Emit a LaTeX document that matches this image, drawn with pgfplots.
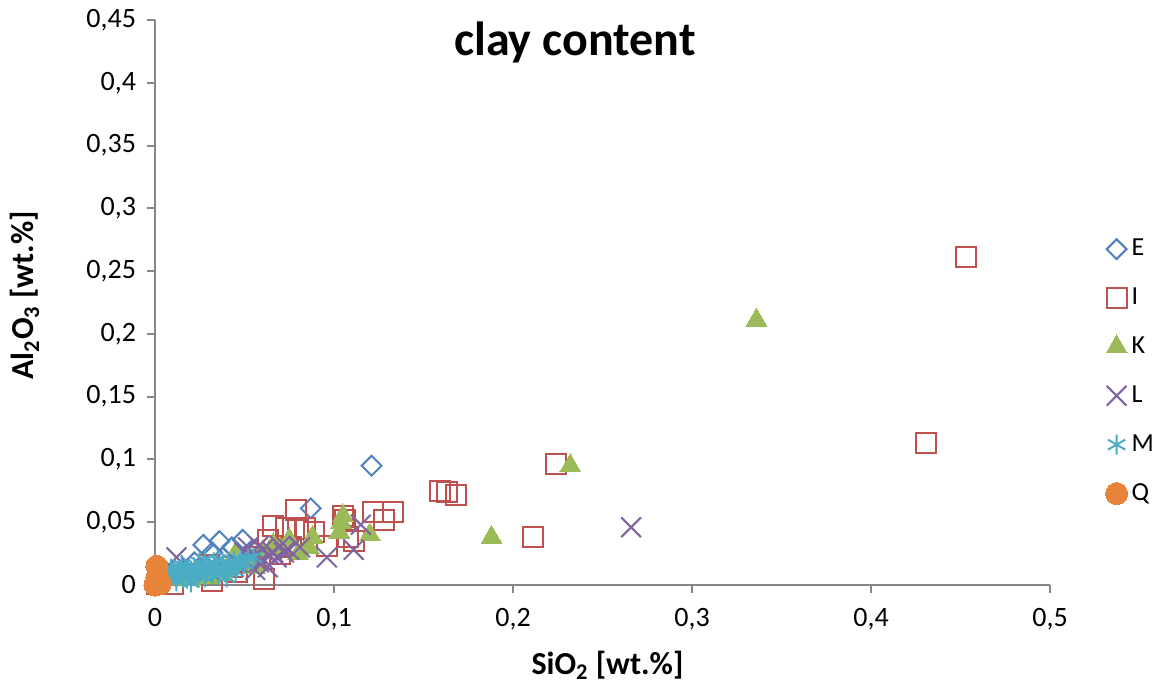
\documentclass[border=0pt]{standalone}
\usepackage{pgfplots}
\pgfplotsset{compat=1.18}
\usepackage{fontspec}
\setmainfont{Carlito}
\definecolor{cE}{HTML}{4F81BD}
\definecolor{cI}{HTML}{C0504D}
\definecolor{cK}{HTML}{9BBB59}
\definecolor{cL}{HTML}{8064A2}
\definecolor{cM}{HTML}{4BACC6}
\definecolor{cQ}{HTML}{E8843A}
\definecolor{axgray}{HTML}{868686}
\begin{document}
\begin{tikzpicture}
\path[use as bounding box] (-77.5pt,-50.5pt) rectangle (501.5pt,292.5pt);
\begin{axis}[
  scale only axis,
  width=447.5pt, height=282.5pt,
  xmin=0, xmax=0.5, ymin=0, ymax=0.45,
  axis x line=bottom, axis y line=left,
  axis line style={-, draw=axgray, line width=1pt},
  tick style={draw=axgray, line width=1pt},
  tick align=outside, major tick length=4pt,
  xtick={0,0.1,0.2,0.3,0.4,0.5},
  ytick={0,0.05,0.1,0.15,0.2,0.25,0.3,0.35,0.4,0.45},
  xticklabels={0,{0,1},{0,2},{0,3},{0,4},{0,5}},
  yticklabels={0,{0,05},{0,1},{0,15},{0,2},{0,25},{0,3},{0,35},{0,4},{0,45}},
  ticklabel style={font=\fontsize{14}{16}\selectfont},
  xticklabel style={yshift=-4pt},
  yticklabel style={xshift=-2pt},
  clip=false,
  xlabel={\bfseries SiO\textsubscript{2} [wt.\%]},
  ylabel={\bfseries Al\textsubscript{2}O\textsubscript{3} [wt.\%]},
  label style={font=\fontsize{16}{18}\selectfont},
  xlabel style={at={(axis description cs:0.5056,-0.1416)}, anchor=center},
  ylabel style={at={(axis description cs:-0.1453,0.513)}, anchor=center},
  legend style={draw=none, at={(rel axis cs:1.055,0.378)}, anchor=west,
    font=\fontsize{13}{15}\selectfont, row sep=10.6pt, fill=none},
  legend cell align=left,
]
\addplot[color=cE, only marks, mark=square, mark size=3.5pt, mark options={rotate=45, draw=cE, line width=1pt, fill=none}] coordinates {
(0.121,0.095) (0.087,0.061) (0.027,0.032) (0.036,0.035) (0.049,0.036)
(0.043,0.030) (0.032,0.026) (0.056,0.028) (0.022,0.018) (0.015,0.012)
(0.010,0.009) (0.005,0.012) (0.001,0.005) (0.038,0.022)
};
\addlegendentry{E}
\addplot[color=cI, only marks, mark=square, mark size=5pt, mark options={draw=cI, line width=1pt, fill=none}] coordinates {
(0.453,0.261) (0.431,0.113) (0.224,0.096) (0.211,0.038) (0.159,0.075)
(0.163,0.074) (0.168,0.072) (0.133,0.058) (0.122,0.058) (0.128,0.052)
(0.105,0.055) (0.106,0.052) (0.108,0.038) (0.111,0.035) (0.096,0.031)
(0.079,0.060) (0.080,0.045) (0.084,0.045) (0.089,0.042) (0.073,0.045)
(0.066,0.047) (0.063,0.036) (0.061,0.005) (0.032,0.003) (0.070,0.025)
(0.052,0.018) (0.043,0.014) (0.030,0.016) (0.020,0.008) (0.010,0.001)
(0.001,0.001) (0.046,0.010) (0.056,0.022) (0.076,0.030)
};
\addlegendentry{I}
\addplot[color=cK, only marks, mark=triangle*, mark size=6pt, mark options={draw=cK, fill=cK, line width=0pt}] coordinates {
(0.336,0.211) (0.232,0.095) (0.188,0.038) (0.120,0.040) (0.105,0.055)
(0.104,0.050) (0.103,0.042) (0.088,0.038) (0.086,0.030) (0.075,0.036)
(0.066,0.032) (0.060,0.026) (0.052,0.020) (0.046,0.016) (0.040,0.012)
(0.034,0.010) (0.026,0.008) (0.016,0.005) (0.070,0.028) (0.080,0.025)
(0.045,0.025) (0.030,0.006) (0.020,0.004) (0.038,0.008) (0.056,0.014)
};
\addlegendentry{K}
\addplot[color=cL, only marks, mark=x, mark size=7pt, mark options={draw=cL, line width=1pt}] coordinates {
(0.266,0.046) (0.115,0.048) (0.111,0.028) (0.096,0.022) (0.075,0.028)
(0.066,0.026) (0.061,0.020) (0.058,0.031) (0.055,0.023) (0.050,0.026)
(0.046,0.018) (0.070,0.031) (0.012,0.022) (0.020,0.015) (0.030,0.012)
(0.081,0.030) (0.063,0.014) (0.056,0.012) (0.068,0.022) (0.052,0.030)
(0.060,0.028) (0.064,0.024) (0.072,0.026) (0.058,0.018)
};
\addlegendentry{L}
\addplot[color=cM, only marks, mark=asterisk, mark size=5pt, mark options={draw=cM, line width=1pt}] coordinates {
(0.003,0.004) (0.006,0.008) (0.008,0.005) (0.010,0.010) (0.012,0.006)
(0.014,0.012) (0.016,0.008) (0.018,0.005) (0.020,0.011) (0.022,0.014)
(0.024,0.008) (0.026,0.012) (0.028,0.006) (0.030,0.015) (0.032,0.010)
(0.034,0.013) (0.036,0.008) (0.038,0.017) (0.040,0.012) (0.042,0.015)
(0.044,0.019) (0.046,0.014) (0.048,0.020) (0.050,0.017) (0.035,0.020)
(0.025,0.018) (0.015,0.016) (0.012,0.003) (0.020,0.002) (0.040,0.006)
(0.055,0.022) (0.028,0.020) (0.018,0.012) (0.009,0.013) (0.013,0.009)
(0.017,0.013) (0.023,0.010) (0.027,0.015) (0.031,0.012) (0.033,0.018)
(0.037,0.014) (0.041,0.018) (0.045,0.011) (0.052,0.021) (0.007,0.006)
(0.011,0.012) (0.021,0.007) (0.029,0.010) (0.039,0.010) (0.047,0.017)
};
\addlegendentry{M}
\addplot[color=cQ, only marks, mark=*, mark size=5.5pt, mark options={draw=cQ, fill=cQ, line width=0pt}] coordinates {
(0.001,0.015) (0.001,0.006) (0.002,0.003) (0.003,0.001) (0.000,0.000)
};
\addlegendentry{Q}
\node[font=\bfseries\fontsize{24}{28}\selectfont] at (axis cs:0.2346,0.4325) {clay content};
\end{axis}
\end{tikzpicture}
\end{document}
